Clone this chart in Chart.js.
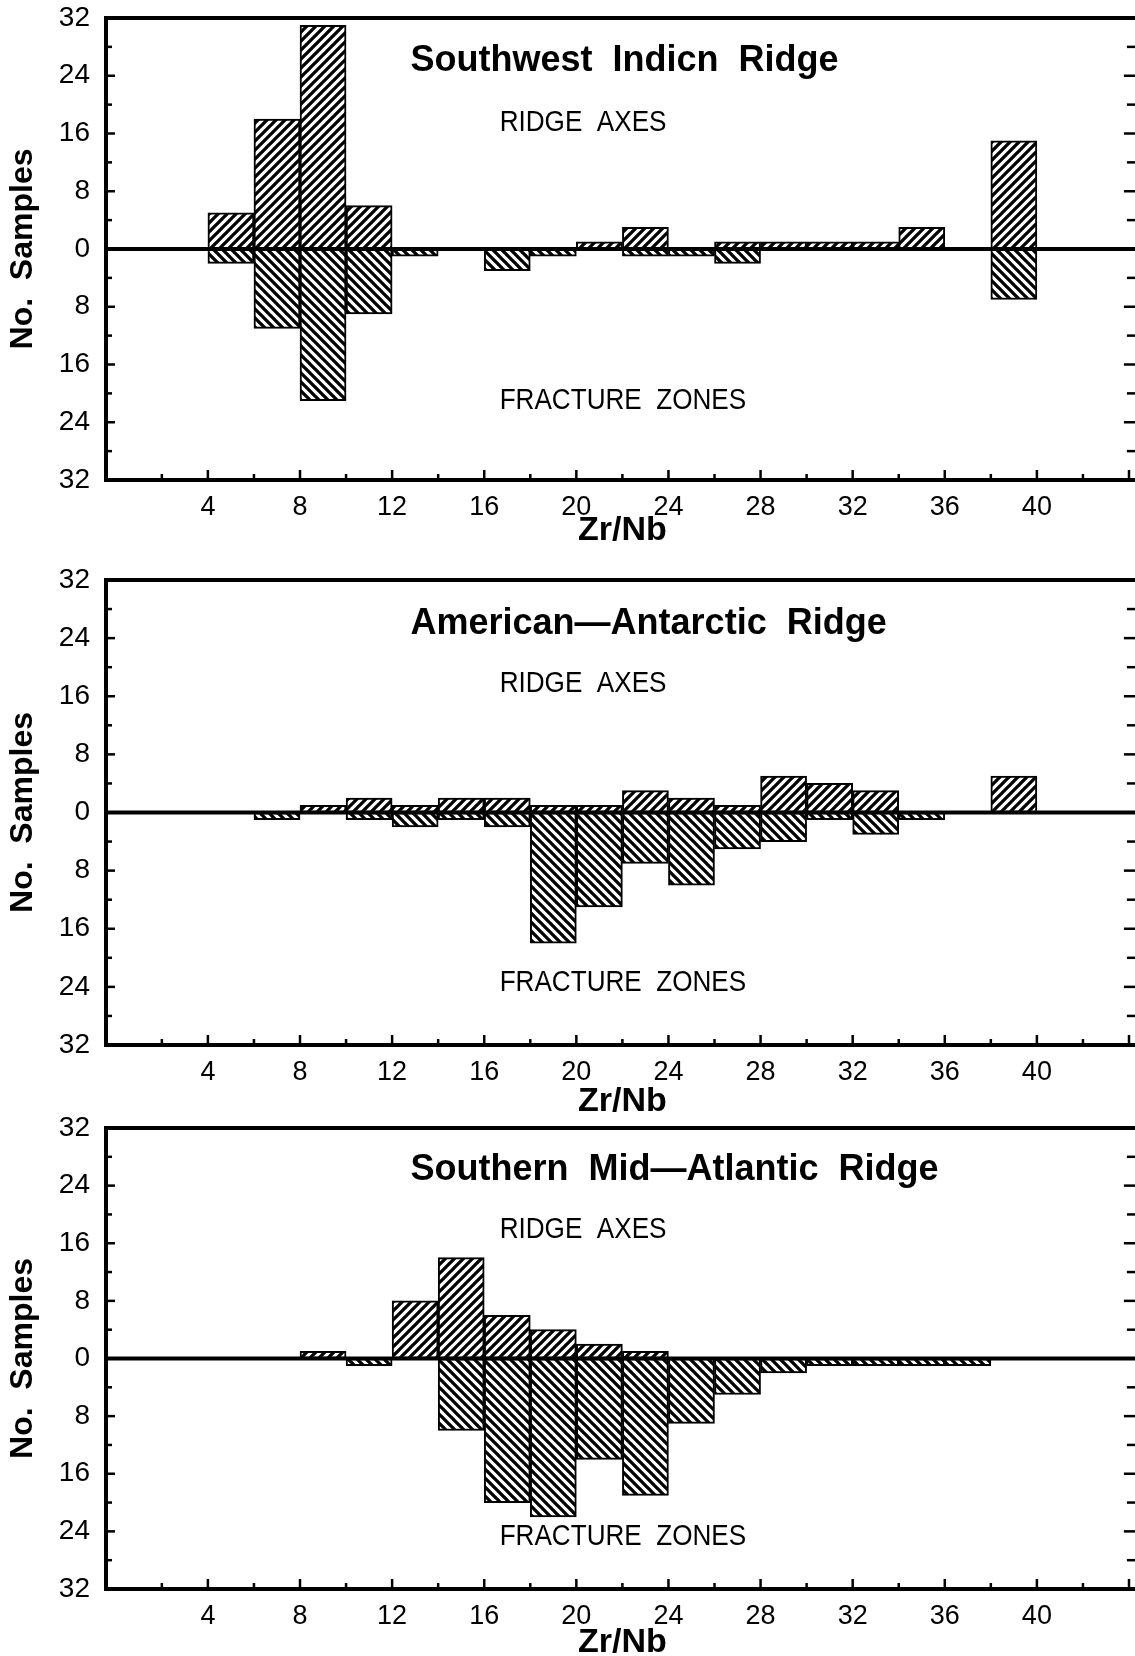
<!DOCTYPE html>
<html>
<head>
    <title>Zr/Nb histograms</title>
    <script src="https://cdn.jsdelivr.net/npm/chart.js@4.4.0/dist/chart.umd.min.js"></script>
    <style>
        html, body { margin: 0; padding: 0; background: #fff; overflow: hidden; }
        body { width: 1135px; height: 1656px; position: relative; }
        .panel { position: absolute; left: 0; }
        canvas { display: block; }
    </style>
</head>
<body>
    <div class="panel" style="top:0px"><canvas id="swir" width="1140" height="560"></canvas></div>
    <div class="panel" style="top:562px"><canvas id="aar" width="1140" height="563"></canvas></div>
    <div class="panel" style="top:1110px"><canvas id="smar" width="1140" height="546"></canvas></div>

    <script>
        // lower edge of each Zr/Nb bin (bins are 2 wide)
        const bins = [4, 6, 8, 10, 12, 14, 16, 18, 20, 22, 24, 26, 28, 30, 32, 34, 36, 38];
        const xTickLabels = [4, 8, 12, 16, 20, 24, 28, 32, 36, 40];
        const yTickLabels = [32, 24, 16, 8, 0, 8, 16, 24, 32];

        // Southwest Indian Ridge
        const swirRidge    = [5, 18, 31, 6, 0, 0, 0, 0, 1, 3, 0, 1, 1, 1, 1, 3, 0, 15];
        const swirFracture = [2, 11, 21, 9, 1, 0, 3, 1, 0, 1, 1, 2, 0, 0, 0, 0, 0, 7];

        // American-Antarctic Ridge
        const aarRidge    = [0, 0, 1, 2, 1, 2, 2, 1, 1, 3, 2, 1, 5, 4, 3, 0, 0, 5];
        const aarFracture = [0, 1, 0, 1, 2, 1, 2, 18, 13, 7, 10, 5, 4, 1, 3, 1, 0, 0];

        // Southern Mid-Atlantic Ridge
        const smarRidge    = [0, 0, 1, 0, 8, 14, 6, 4, 2, 1, 0, 0, 0, 0, 0, 0, 0, 0];
        const smarFracture = [0, 0, 0, 1, 0, 10, 20, 22, 14, 19, 9, 5, 2, 1, 1, 1, 1, 0];

        const FONT = '"Liberation Sans", Arial, sans-serif';

        // hatch patterns
        function hatch(up) {
            const p = 9;
            const c = document.createElement('canvas');
            c.width = p; c.height = p;
            const g = c.getContext('2d');
            g.fillStyle = '#fff';
            g.fillRect(0, 0, p, p);
            g.strokeStyle = '#000';
            g.lineWidth = 3.3;
            g.beginPath();
            if (up) {
                g.moveTo(-2, 2); g.lineTo(2, -2);
                g.moveTo(0, p); g.lineTo(p, 0);
                g.moveTo(p - 2, p + 2); g.lineTo(p + 2, p - 2);
            } else {
                g.moveTo(0, 0); g.lineTo(p, p);
                g.moveTo(-2, p - 2); g.lineTo(2, p + 2);
                g.moveTo(p - 2, -2); g.lineTo(p + 2, 2);
            }
            g.stroke();
            return c;
        }

        const framePlugin = {
            id: 'frame',
            afterDatasetsDraw(chart, args, opts) {
                const { ctx, chartArea: a, scales: { x, y } } = chart;
                ctx.save();
                ctx.strokeStyle = '#000';
                const line = (x1, y1, x2, y2) => {
                    ctx.beginPath(); ctx.moveTo(x1, y1); ctx.lineTo(x2, y2); ctx.stroke();
                };
                // zero line
                ctx.lineWidth = 4;
                const y0 = y.getPixelForValue(0);
                line(a.left, y0, a.right, y0);
                // frame
                ctx.strokeRect(a.left, a.top, a.right - a.left, a.bottom - a.top);
                // y ticks
                ctx.lineWidth = 2.5;
                for (let v = -28; v <= 28; v += 4) {
                    const py = y.getPixelForValue(v);
                    const len = v % 8 === 0 ? 9 : 6;
                    line(a.left, py, a.left + len, py);
                    line(a.right, py, a.right - len - 6, py);
                }
                // x ticks
                for (let v = 2; v <= 44; v += 2) {
                    const px = x.getPixelForValue(v);
                    const len = v % 4 === 0 ? 10 : 6;
                    line(px, a.bottom, px, a.bottom - len);
                }
                // annotations
                ctx.fillStyle = '#000';
                ctx.textBaseline = 'middle';
                ctx.textAlign = 'left';
                ctx.font = 'bold 36px ' + FONT;
                ctx.fillText(opts.title, x.getPixelForValue(12.8), y.getPixelForValue(opts.titleY));

                ctx.font = '30px ' + FONT;
                const lx = x.getPixelForValue(16.67);
                [['RIDGE  AXES', opts.ridgeY], ['FRACTURE  ZONES', opts.fracY]].forEach(([t, v]) => {
                    ctx.save();
                    ctx.translate(lx, y.getPixelForValue(v));
                    ctx.scale(0.87, 1);
                    ctx.fillText(t, 0, 0);
                    ctx.restore();
                });
                ctx.restore();
            }
        };

        function makeChart(id, ridge, fracture, cfg) {
            const ctx = document.getElementById(id).getContext('2d');
            const upPattern = ctx.createPattern(hatch(true), 'repeat');
            const downPattern = ctx.createPattern(hatch(false), 'repeat');
            const barStyle = {
                borderColor: '#000',
                borderWidth: 2,
                borderSkipped: false,
                barPercentage: 1,
                categoryPercentage: 1,
                grouped: false
            };
            return new Chart(ctx, {
                type: 'bar',
                data: {
                    datasets: [
                        Object.assign({
                            label: 'Ridge axes',
                            data: bins.map((b, i) => ({ x: b + 1, y: ridge[i] })),
                            backgroundColor: upPattern
                        }, barStyle),
                        Object.assign({
                            label: 'Fracture zones',
                            data: bins.map((b, i) => ({ x: b + 1, y: -fracture[i] })),
                            backgroundColor: downPattern
                        }, barStyle)
                    ]
                },
                options: {
                    responsive: false,
                    animation: false,
                    layout: { padding: { top: 18, left: 0, right: 0, bottom: 0 } },
                    plugins: {
                        legend: { display: false },
                        tooltip: { enabled: false },
                        frame: cfg
                    },
                    scales: {
                        x: {
                            type: 'linear',
                            min: -0.425,
                            max: 44.43,
                            offset: false,
                            grid: { display: false, drawTicks: false },
                            border: { display: false },
                            ticks: {
                                stepSize: 4,
                                includeBounds: false,
                                autoSkip: false,
                                maxRotation: 0,
                                padding: 11,
                                color: '#000',
                                font: { family: FONT, size: 27 },
                                callback: v => xTickLabels.includes(v) ? String(v) : ''
                            },
                            title: {
                                display: true,
                                text: 'Zr/Nb',
                                color: '#000',
                                font: { family: FONT, size: 34, weight: 'bold', lineHeight: 0.8 },
                                padding: { top: 0, bottom: cfg.xTitlePad }
                            },
                            afterFit: s => { s.height = cfg.xHeight; }
                        },
                        y: {
                            min: -32,
                            max: 32,
                            grid: { display: false, drawTicks: true, tickLength: 16 },
                            border: { display: false },
                            ticks: {
                                stepSize: 8,
                                padding: 0,
                                color: '#000',
                                font: { family: FONT, size: 28 },
                                callback: (v, i) => String(yTickLabels[yTickLabels.length - 1 - i] ?? Math.abs(v))
                            },
                            title: {
                                display: true,
                                text: 'No.  Samples',
                                color: '#000',
                                font: { family: FONT, size: 32, weight: 'bold' },
                                padding: { top: 4, bottom: 0 }
                            },
                            afterFit: s => { s.width = 106; }
                        }
                    }
                },
                plugins: [framePlugin]
            });
        }

        makeChart('swir', swirRidge, swirFracture, {
            title: 'Southwest  Indicn  Ridge', titleY: 26, ridgeY: 17.5, fracY: -21,
            xHeight: 80, xTitlePad: 16
        });
        makeChart('aar', aarRidge, aarFracture, {
            title: 'American\u2014Antarctic  Ridge', titleY: 26, ridgeY: 17.7, fracY: -23.4,
            xHeight: 80, xTitlePad: 10
        });
        makeChart('smar', smarRidge, smarFracture, {
            title: 'Southern  Mid\u2014Atlantic  Ridge', titleY: 26.2, ridgeY: 17.9, fracY: -24.8,
            xHeight: 67, xTitlePad: 0
        });
    </script>
</body>
</html>
